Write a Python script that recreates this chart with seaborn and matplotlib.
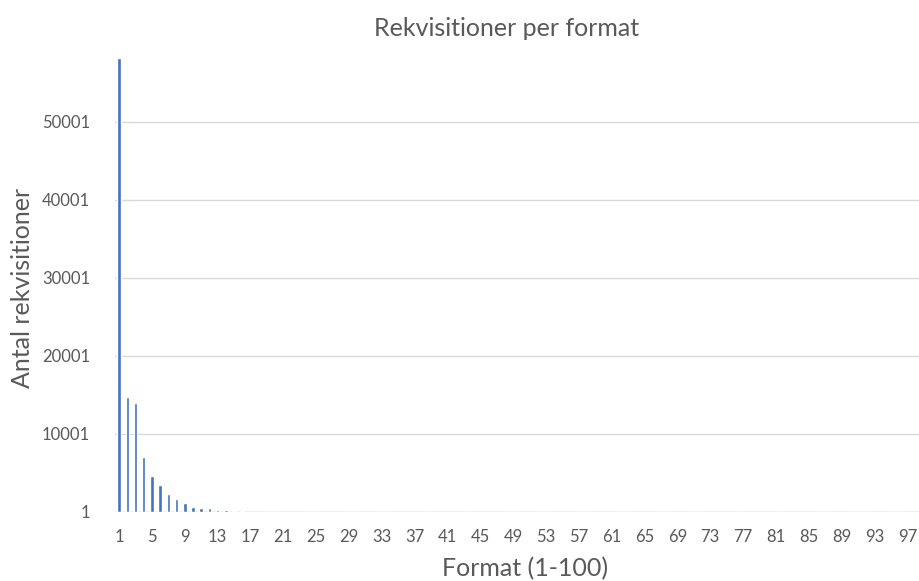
"""Rekvisitioner per format - bar chart of requisition counts by format number."""
import matplotlib.pyplot as plt
import pandas as pd
import seaborn as sns

# format numbers 1-100
formats = list(range(1, 101))

# requisition counts (most formats are near zero)
counts_head = [58200, 14700, 13940, 7050, 4570, 3500, 2260, 1670, 1110, 680,
               550, 520, 260, 250, 90, 70, 50, 40, 30, 25]
counts_tail = [0] * 80
counts = counts_head + counts_tail

y_ticks = [1, 10001, 20001, 30001, 40001, 50001]
x_tick_labels = [str(f) for f in formats[::4]]

BAR_COLOR = "#4472C4"
TEXT_COLOR = "#595959"
GRID_COLOR = "#D9D9D9"

df = pd.DataFrame({"format": [str(f) for f in formats], "antal": counts})

sns.set_theme(style="white")
plt.rcParams["font.family"] = ["Lato", "DejaVu Sans"]

fig = plt.figure(figsize=(9.2, 5.81), dpi=100)
ax = fig.add_axes([115 / 920, 69 / 581, 821 / 920, 468 / 581])

sns.barplot(data=df, x="format", y="antal", color=BAR_COLOR, width=0.42,
            saturation=1, ax=ax, order=df["format"])

ax.set_xlim(-0.5, 99.5)
ax.set_ylim(1, 60001)
ax.set_yticks(y_ticks)
ax.set_yticklabels([str(t) for t in y_ticks])
ax.set_xticks(range(0, 100, 4))
ax.set_xticklabels(x_tick_labels)

ax.grid(axis="y", color=GRID_COLOR, linewidth=1)
ax.set_axisbelow(True)
for side in ["top", "right", "left", "bottom"]:
    ax.spines[side].set_visible(False)
ax.axhline(1, color="#D0D0D0", linewidth=1, zorder=0)

ax.tick_params(axis="both", length=0, labelsize=12, colors=TEXT_COLOR)
ax.tick_params(axis="x", pad=12)
ax.tick_params(axis="y", pad=18)

ax.set_xlabel("Format (1-100)", fontsize=18, color=TEXT_COLOR, labelpad=9)
ax.set_ylabel("Antal rekvisitioner", fontsize=18, color=TEXT_COLOR)
# place the y label by axes fraction (x left of the tick labels)
ax.yaxis.set_label_coords(-(115 - 34) / 821, (512 - 288) / 468)
fig.text(507 / 920, 1 - 28 / 581, "Rekvisitioner per format", ha="center",
         va="center", fontsize=18, color=TEXT_COLOR)

fig.savefig("out.png", dpi=100)
